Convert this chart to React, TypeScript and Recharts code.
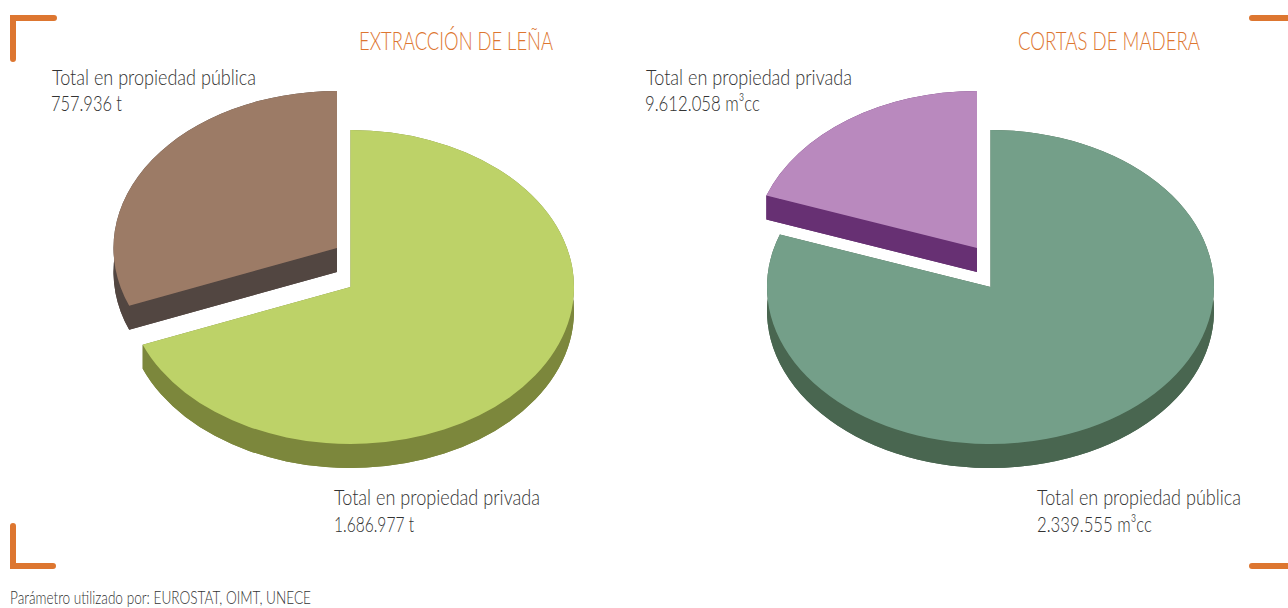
import React from 'react';
import { PieChart, Pie } from 'recharts';

const leftNames = ['Total en propiedad privada', 'Total en propiedad pública'];
const leftValues = [1686977, 757936];
const leftTop = ['#BDD268', '#9C7B66'];
const leftSide = ['#7C873C', '#524641'];

// el sector morado es el pequeño: su etiqueta en el original va cruzada
const rightNames = ['Sector mayor', 'Sector menor'];
const rightValues = [9612058, 2339555];
const rightTop = ['#749F89', '#B989BE'];
const rightSide = ['#496650', '#673073'];

const SQUASH = 157 / 223.5;
const DEPTH = 24;
const EXPLODE = { dx: -13.5, dy: -39 };

const buildData = (names: string[], values: number[], top: string[], side: string[]) =>
  names.map((name, i) => ({ name, value: values[i], fill: top[i], side: side[i], exploded: i === 1 }));

const leftData = buildData(leftNames, leftValues, leftTop, leftSide);
const rightData = buildData(rightNames, rightValues, rightTop, rightSide);

// Sector with an elliptical top face and an extruded side
const Slice3D = (props: any) => {
  const { cx, cy, outerRadius, startAngle, endAngle, fill, payload } = props;
  const item = payload ?? props;
  const ox = cx + (item.exploded ? EXPLODE.dx : 0);
  const oy = cy + (item.exploded ? EXPLODE.dy : 0);
  const rx = outerRadius;
  const ry = outerRadius * SQUASH;
  const at = (deg: number) => {
    const a = (deg * Math.PI) / 180;
    return { x: ox + rx * Math.cos(a), y: oy - ry * Math.sin(a) };
  };
  const p1 = at(startAngle);
  const p2 = at(endAngle);
  const large = Math.abs(startAngle - endAngle) > 180 ? 1 : 0;
  const face = (d: number) =>
    `M${ox},${oy + d} L${p1.x},${p1.y + d} A${rx},${ry} 0 ${large} 1 ${p2.x},${p2.y + d} Z`;
  const wall =
    `M${p1.x},${p1.y} A${rx},${ry} 0 ${large} 1 ${p2.x},${p2.y} L${p2.x},${p2.y + DEPTH} ` +
    `A${rx},${ry} 0 ${large} 0 ${p1.x},${p1.y + DEPTH} Z`;
  const edge = (p: { x: number; y: number }) =>
    `M${ox},${oy} L${p.x},${p.y} L${p.x},${p.y + DEPTH} L${ox},${oy + DEPTH} Z`;
  return (
    <g>
      <path d={face(DEPTH)} fill={item.side} />
      <path d={wall} fill={item.side} />
      <path d={edge(p1)} fill={item.side} />
      <path d={edge(p2)} fill={item.side} />
      <path d={face(0)} fill={fill} />
    </g>
  );
};

const FONT = 'Lato, Roboto, sans-serif';
const labels = [
  { text: 'Total en propiedad pública', x: 52, y: 85, w: 204 },
  { text: '757.936 t', x: 51, y: 111, w: 71 },
  { text: 'Total en propiedad privada', x: 334, y: 505, w: 206 },
  { text: '1.686.977 t', x: 334, y: 532, w: 80 },
  { text: 'Total en propiedad privada', x: 646, y: 85, w: 206 },
  { text: '9.612.058 m³cc', x: 645, y: 111, w: 115 },
  { text: 'Total en propiedad pública', x: 1037, y: 505, w: 204 },
  { text: '2.339.555 m³cc', x: 1037, y: 532, w: 115 },
];
const titles = [
  { text: 'EXTRACCIÓN DE LEÑA', x: 359, y: 50, w: 194 },
  { text: 'CORTAS DE MADERA', x: 1018, y: 50, w: 182 },
];
const brackets = ['M54,18 H13 V59', 'M13,526 V566 H53', 'M1252,18 H1288', 'M1252,566 H1288'];

const App: React.FC = () => (
  <div style={{ position: 'fixed', left: 0, top: 0, width: 1288, height: 608, background: '#fff' }}>
    <PieChart width={1288} height={608} margin={{ top: 0, right: 0, bottom: 0, left: 0 }}>
      <Pie
        data={leftData}
        dataKey="value"
        nameKey="name"
        cx={350.5}
        cy={287}
        outerRadius={223.5}
        startAngle={90}
        endAngle={-270}
        stroke="none"
        shape={Slice3D}
        isAnimationActive={false}
      />
      <Pie
        data={rightData}
        dataKey="value"
        nameKey="name"
        cx={990.5}
        cy={287}
        outerRadius={223.5}
        startAngle={90}
        endAngle={-270}
        stroke="none"
        shape={Slice3D}
        isAnimationActive={false}
      />
    </PieChart>
    <svg width={1288} height={608} style={{ position: 'absolute', left: 0, top: 0 }}>
      {brackets.map((d) => (
        <path key={d} d={d} fill="none" stroke="#DD7630" strokeWidth={6} strokeLinecap="round" />
      ))}
      {titles.map((t) => (
        <text key={t.text} x={t.x} y={t.y} textLength={t.w} lengthAdjust="spacingAndGlyphs"
          fontFamily={FONT} fontWeight={300} fontSize={25} fill="#DD7630">
          {t.text}
        </text>
      ))}
      {labels.map((l) => (
        <text key={l.text + l.x} x={l.x} y={l.y} textLength={l.w} lengthAdjust="spacingAndGlyphs"
          fontFamily={FONT} fontWeight={300} fontSize={22} fill="#333333">
          {l.text}
        </text>
      ))}
      <text x={10} y={604} textLength={301} lengthAdjust="spacingAndGlyphs"
        fontFamily={FONT} fontWeight={300} fontSize={17} fill="#333333">
        Parámetro utilizado por: EUROSTAT, OIMT, UNECE
      </text>
    </svg>
  </div>
);

export default App;
